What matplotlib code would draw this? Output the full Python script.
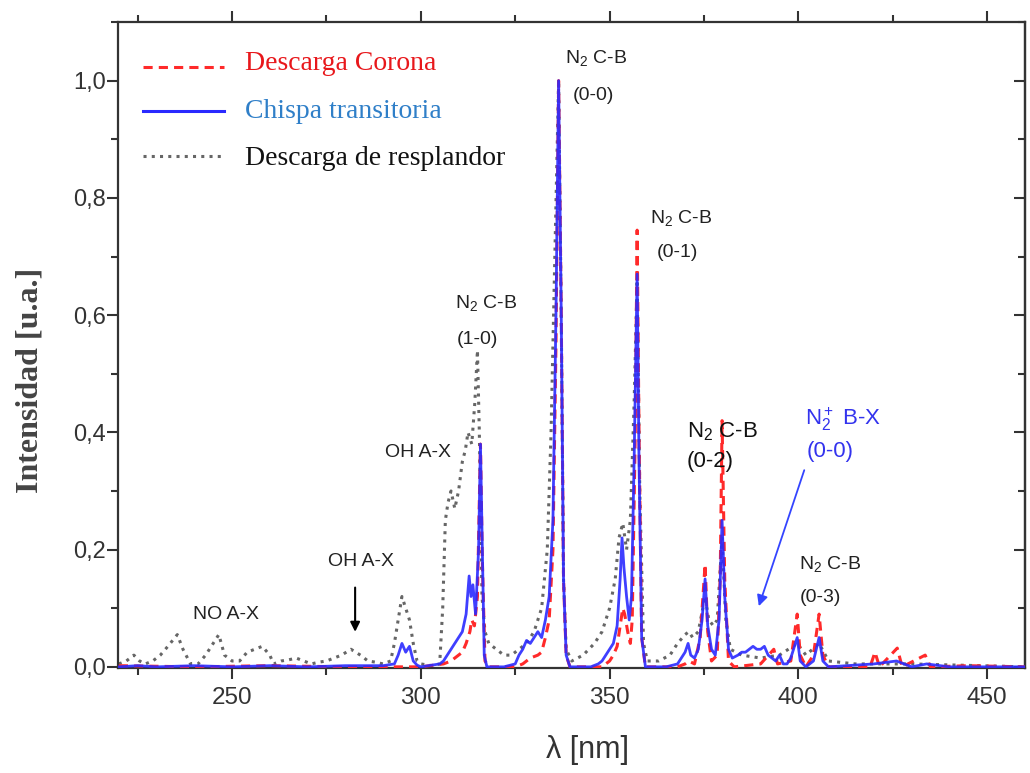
import numpy as np
import matplotlib.pyplot as plt
from matplotlib.ticker import MultipleLocator, FuncFormatter

# wavelength [nm] / normalised intensity
wl_chispa = [220, 225, 230, 240, 250, 260, 270, 280, 290, 293, 294, 295, 296, 297, 298, 299, 300,
             305, 306, 307, 308, 309, 310, 311, 312, 312.8, 313.3, 313.8, 314.5, 315.3, 315.8, 316.3,
             316.8, 317.5, 322, 325, 326, 327, 328, 329, 330, 331, 332, 333, 334, 335, 335.8, 336.5,
             337.2, 337.8, 338.5, 339.5, 345, 347, 348, 349, 350, 351, 352, 352.8, 353.3, 353.8, 354.5,
             355.2, 355.8, 356.5, 357.3, 357.8, 358.5, 359.5, 365, 368, 369, 370, 370.8, 371.5, 372.5,
             373.5, 374.5, 375.3, 376, 377, 378, 379, 379.8, 380.5, 381.5, 382.5, 384, 385, 386, 387,
             388, 389, 390, 391, 392, 393, 394, 395, 396, 397, 398, 399.7, 400.5, 402, 404, 405.5,
             406.5, 408, 420, 426, 430, 434, 440, 460]
int_chispa = [0.0, 0.002, 0.0, 0.002, 0.0, 0.002, 0.0, 0.002, 0.002, 0.005, 0.02, 0.04, 0.025, 0.035,
              0.01, 0.003, 0.0, 0.005, 0.01, 0.02, 0.03, 0.04, 0.05, 0.06, 0.09, 0.155, 0.12, 0.14,
              0.09, 0.2, 0.38, 0.2, 0.02, 0.0, 0.0, 0.005, 0.02, 0.03, 0.045, 0.04, 0.05, 0.06, 0.05,
              0.08, 0.12, 0.25, 0.6, 1.0, 0.6, 0.15, 0.02, 0.0, 0.0, 0.005, 0.01, 0.02, 0.03, 0.04,
              0.07, 0.15, 0.22, 0.17, 0.12, 0.08, 0.12, 0.35, 0.67, 0.35, 0.05, 0.0, 0.0, 0.005, 0.015,
              0.025, 0.04, 0.02, 0.015, 0.03, 0.08, 0.15, 0.07, 0.03, 0.02, 0.08, 0.25, 0.12, 0.03,
              0.015, 0.02, 0.025, 0.025, 0.03, 0.035, 0.03, 0.03, 0.035, 0.02, 0.015, 0.01, 0.02,
              0.005, 0.005, 0.015, 0.05, 0.01, 0.0, 0.01, 0.05, 0.01, 0.0, 0.005, 0.01, 0.0, 0.005,
              0.0, 0.0]

wl_corona = [220, 240, 260, 280, 300, 306, 308, 310, 311, 312, 313, 313.5, 314.2, 315, 315.8, 316.3,
             317, 318, 325, 327, 329, 331, 332, 333, 334, 335, 335.8, 336.5, 337.2, 337.8, 338.5,
             339.5, 348, 350, 351, 352, 352.8, 353.5, 354, 354.8, 355.5, 356, 356.8, 357.3, 357.8,
             358.5, 359.5, 368, 370, 371, 372.5, 374, 375.3, 376, 377, 378.5, 379.3, 379.8, 380.5,
             381.5, 383, 390, 393.5, 394.5, 398, 399.7, 400.5, 402, 404, 405.5, 406.5, 408, 419,
             420.3, 421.5, 426.2, 427.5, 433.6, 435, 445, 460]
int_corona = [0.002, 0.0, 0.002, 0.0, 0.0, 0.005, 0.01, 0.02, 0.025, 0.04, 0.06, 0.08, 0.07, 0.12,
              0.38, 0.18, 0.01, 0.0, 0.0, 0.005, 0.015, 0.02, 0.025, 0.05, 0.08, 0.2, 0.55, 1.0, 0.6,
              0.15, 0.02, 0.0, 0.0, 0.01, 0.02, 0.035, 0.07, 0.1, 0.09, 0.06, 0.04, 0.08, 0.4, 0.745,
              0.4, 0.05, 0.0, 0.0, 0.005, 0.01, 0.005, 0.05, 0.175, 0.06, 0.01, 0.02, 0.15, 0.42,
              0.15, 0.01, 0.0, 0.005, 0.03, 0.005, 0.01, 0.09, 0.02, 0.0, 0.02, 0.09, 0.02, 0.0, 0.0,
              0.025, 0.0, 0.032, 0.0, 0.02, 0.0, 0.002, 0.0]

wl_resplandor = [220, 222, 224, 225.5, 227, 229, 231, 233, 235.5, 237, 239, 241, 243, 245, 246.5, 248,
                 250, 252, 254, 256, 258, 260, 261, 263, 265, 267, 269, 271, 273, 275, 277, 279,
                 281.5, 284, 286, 288, 290, 292, 293, 294, 295, 296, 297, 298, 299, 300, 303, 305,
                 305.8, 306.5, 307.2, 308, 309, 310, 311, 311.8, 312.5, 313.5, 314.3, 315, 315.5,
                 316.2, 317, 318, 320, 322, 324, 326, 328, 330, 332, 333.5, 334.5, 335.5, 336.5,
                 337.2, 337.8, 338.5, 340, 343, 346, 348, 350, 351.5, 352.5, 353.5, 354.5, 355.5,
                 356.5, 357.3, 358, 359, 360, 363, 366, 368, 370, 371, 372, 373.5, 375.3, 376.3,
                 377.5, 378.5, 379.8, 380.8, 382, 385, 390, 395, 399.7, 402, 405.5, 408, 415, 430, 460]
int_resplandor = [0.005, 0.01, 0.02, 0.01, 0.005, 0.01, 0.02, 0.035, 0.055, 0.03, 0.005, 0.005, 0.02,
                  0.04, 0.055, 0.02, 0.01, 0.01, 0.025, 0.03, 0.035, 0.02, 0.005, 0.01, 0.012, 0.015,
                  0.01, 0.005, 0.008, 0.01, 0.015, 0.02, 0.03, 0.02, 0.01, 0.008, 0.005, 0.01, 0.04,
                  0.08, 0.12, 0.1, 0.08, 0.04, 0.01, 0.005, 0.002, 0.005, 0.1, 0.25, 0.28, 0.3, 0.27,
                  0.3, 0.35, 0.37, 0.40, 0.38, 0.45, 0.54, 0.4, 0.12, 0.06, 0.04, 0.03, 0.02, 0.02,
                  0.03, 0.04, 0.06, 0.1, 0.2, 0.4, 0.7, 1.0, 0.6, 0.15, 0.03, 0.01, 0.02, 0.04, 0.06,
                  0.1, 0.15, 0.22, 0.245, 0.2, 0.25, 0.45, 0.66, 0.3, 0.04, 0.01, 0.01, 0.02, 0.04,
                  0.055, 0.06, 0.05, 0.06, 0.12, 0.08, 0.07, 0.08, 0.22, 0.08, 0.03, 0.02, 0.015, 0.02,
                  0.04, 0.02, 0.04, 0.01, 0.005, 0.005, 0.0]

plt.rcParams['font.family'] = ['Liberation Sans', 'DejaVu Sans']
plt.rcParams['mathtext.fontset'] = 'custom'
plt.rcParams['mathtext.rm'] = 'Liberation Sans'
plt.rcParams['mathtext.it'] = 'Liberation Sans'

fig = plt.figure(figsize=(10.3, 7.73), dpi=100)
ax = fig.add_axes([0.1146, 0.1358, 0.8804, 0.8357])

ax.plot(wl_resplandor, int_resplandor, color='#666666', ls=(0, (1, 1.7)), lw=2.2, zorder=2)
ax.plot(wl_corona, int_corona, color='#ff2a2a', ls=(0, (3, 2)), lw=2.2, zorder=3)
ax.plot(wl_chispa, int_chispa, color='#2a2aff', ls='-', lw=2.0, zorder=4, alpha=0.9)

ax.set_xlim(219.8, 460)
ax.set_ylim(-0.002, 1.1)

ax.xaxis.set_major_locator(MultipleLocator(50))
ax.xaxis.set_minor_locator(MultipleLocator(25))
ax.yaxis.set_major_locator(MultipleLocator(0.2))
ax.yaxis.set_minor_locator(MultipleLocator(0.1))
ax.yaxis.set_major_formatter(FuncFormatter(lambda v, p: ('%.1f' % v).replace('.', ',')))

ax.tick_params(which='both', direction='out', top=True, right=False, colors='#333333',
               labelsize=17.5, width=1.5)
ax.tick_params(which='major', length=8)
ax.tick_params(which='minor', length=5)
ax.tick_params(axis='x', pad=6)
ax.tick_params(axis='y', pad=1, labelsize=17)
for s in ax.spines.values():
    s.set_color('#333333')
    s.set_linewidth(1.6)

# right side: short ticks pointing inwards, no labels
ax_r = ax.secondary_yaxis('right')
ax_r.yaxis.set_major_locator(MultipleLocator(0.2))
ax_r.yaxis.set_minor_locator(MultipleLocator(0.1))
ax_r.tick_params(which='both', direction='in', labelright=False, colors='#333333', width=1.5)
ax_r.tick_params(which='major', length=8)
ax_r.tick_params(which='minor', length=5)
ax_r.spines['right'].set_color('#333333')
ax_r.spines['right'].set_linewidth(1.6)

fig.text(587 / 1030, 1 - 750 / 773, 'λ [nm]', fontsize=22, color='#333333',
         ha='center', va='center')
fig.text(30 / 1030, 1 - 380 / 773, 'Intensidad [u.a.]', fontsize=23, family='Liberation Serif',
         weight='bold', color='#444444', rotation=90, ha='center', va='center')

# legend drawn by hand to copy the layout
leg = [('Descarga Corona', '#ff2a2a', (0, (3, 2)), '#e8171b', 0.936, 0.930),
       ('Chispa transitoria', '#2a2aff', '-', '#2f7fc8', 0.862, 0.862),
       ('Descarga de resplandor', '#666666', (0, (1, 1.7)), '#111111', 0.788, 0.792)]
for lab, lc, ls, tc, ty, ly in leg:
    ax.plot([0.028, 0.117], [ly, ly], transform=ax.transAxes, color=lc, ls=ls, lw=2.2)
    ax.text(0.140, ty, lab, transform=ax.transAxes, color=tc, fontsize=20,
            family='Liberation Serif', va='center')

kw = dict(fontsize=14, color='#222222', va='center')
ax.text(338.2, 1.039, 'N$_2$ C-B', **kw)
ax.text(340.3, 0.974, '(0-0)', **kw)
ax.text(360.7, 0.765, 'N$_2$ C-B', **kw)
ax.text(362.6, 0.707, '(0-1)', **kw)
ax.text(309.1, 0.621, 'N$_2$ C-B', **kw)
ax.text(309.6, 0.558, '(1-0)', **kw)
ax.text(290.5, 0.366, 'OH A-X', **kw)
ax.text(275.4, 0.179, 'OH A-X', **kw)
ax.text(239.7, 0.090, 'NO A-X', **kw)
ax.text(400.3, 0.175, 'N$_2$ C-B', **kw)
ax.text(400.3, 0.119, '(0-3)', **kw)
kw2 = dict(fontsize=16, color='#111111', va='center')
ax.text(370.5, 0.401, 'N$_2$ C-B', **kw2)
ax.text(370.5, 0.350, '(0-2)', **kw2)
kw3 = dict(fontsize=16, color='#3333ee', va='center')
ax.text(401.8, 0.422, 'N$_2^+$ B-X', **kw3)
ax.text(402.3, 0.367, '(0-0)', **kw3)

ax.annotate('', xy=(282.6, 0.055), xytext=(282.6, 0.14),
            arrowprops=dict(arrowstyle='-|>', color='black', lw=1.5, mutation_scale=14))
ax.annotate('', xy=(389.3, 0.099), xytext=(401.8, 0.34),
            arrowprops=dict(arrowstyle='-|>', color='#3344ff', lw=1.3, mutation_scale=16))

fig.savefig('out.png', dpi=100)
